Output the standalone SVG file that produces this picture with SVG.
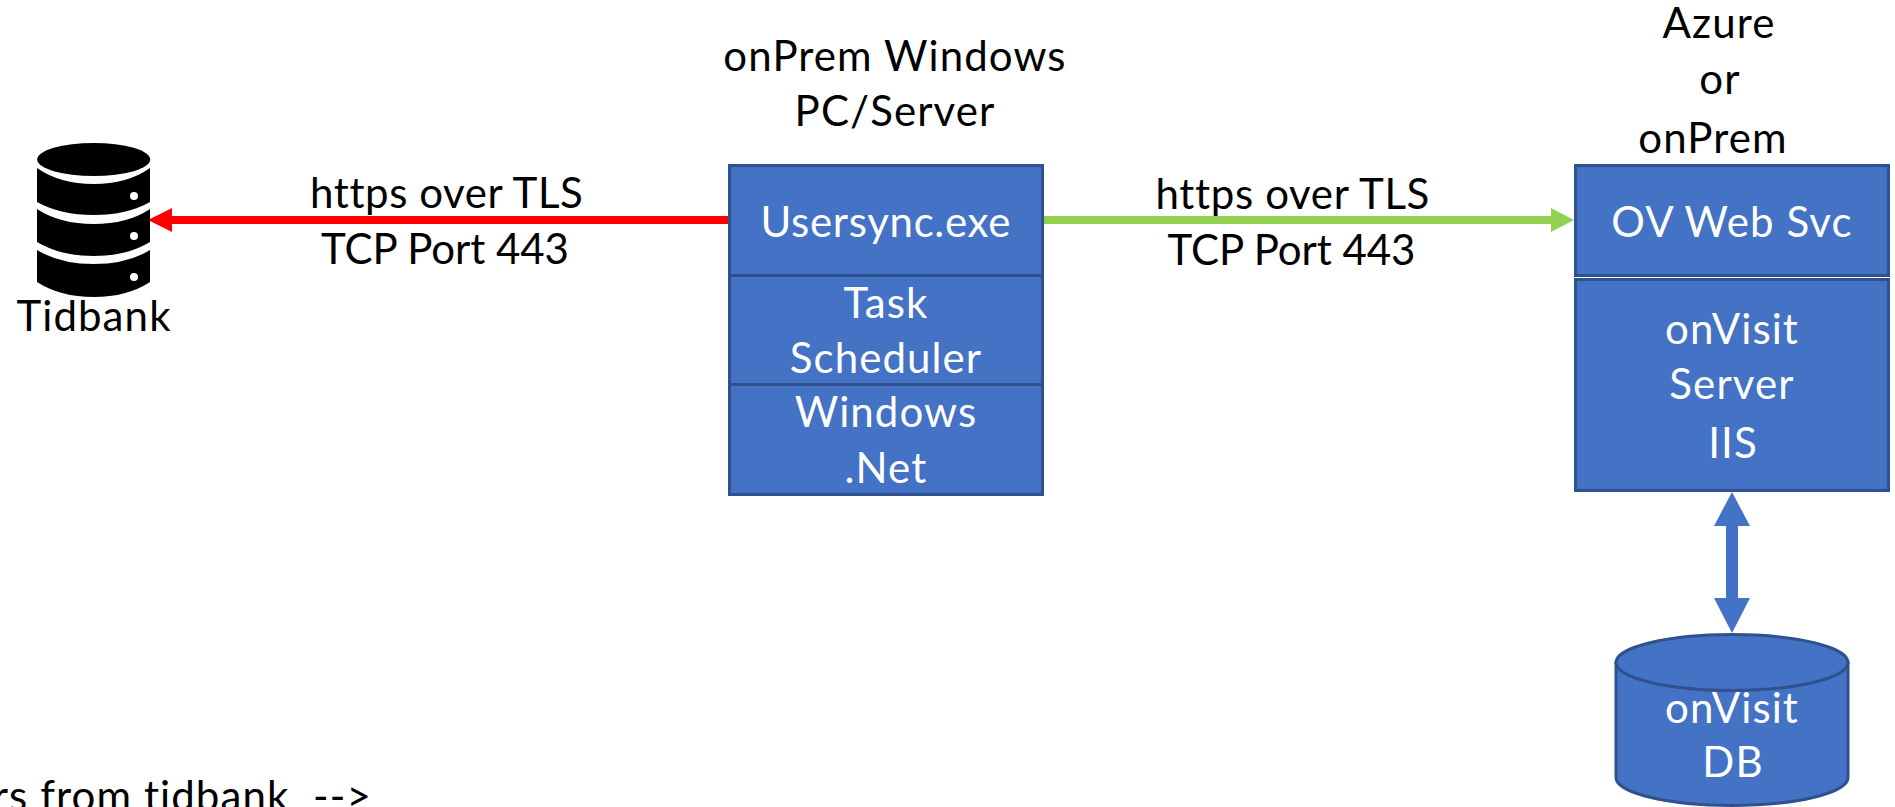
<svg xmlns="http://www.w3.org/2000/svg" width="1895" height="807" viewBox="0 0 1895 807">
<style>
text{font-family:"Lato","Carlito","Open Sans",sans-serif;font-size:42px;letter-spacing:1.1px;font-variant-ligatures:none;text-anchor:middle;fill:#000}
.w{fill:#fff}
.box{fill:#4472C4;stroke:#2F528F;stroke-width:3}
</style>
<rect width="1895" height="807" fill="#fff"/>
<g id="connectors">
<path d="M728 216H172V208L148 220L172 232V224H728Z" fill="#FF0000"/>
<path d="M1043 216H1551V208L1574 220L1551 232V224H1043Z" fill="#92D050"/>
<path d="M1732 492L1750 526H1738V598H1750L1732 633L1714 598H1726V526H1714Z" fill="#4472C4"/>
</g>
<g id="tidbank">
<ellipse cx="93.7" cy="159.500" rx="56.5" ry="16.5"/>
<path d="M37 168Q60 184 93.7 184T150 168V202Q127 215 93.7 215T37 202Z"/>
<path d="M37 209Q60 224 93.7 224T150 209V242Q127 256 93.7 256T37 242Z"/>
<path d="M37 250Q60 264 93.7 264T150 250V282Q127 297 93.7 297T37 282Z"/>
<circle cx="134" cy="196" r="4" fill="#fff"/>
<circle cx="134" cy="236" r="4" fill="#fff"/>
<circle cx="134" cy="277" r="4" fill="#fff"/>
<text x="94" y="331">Tidbank</text>
</g>
<g id="label-left"><text x="447" y="208" textLength="274">https over TLS</text><text x="445.5" y="264" textLength="249">TCP Port 443</text></g>
<g id="label-right"><text x="1293" y="209" textLength="275">https over TLS</text><text x="1292" y="265" textLength="249">TCP Port 443</text></g>
<g id="onprem-title"><text x="895" y="71">onPrem Windows</text><text x="895" y="126">PC/Server</text></g>
<g id="azure-title"><text x="1719" y="38">Azure</text><text x="1720" y="94">or</text><text x="1713" y="153">onPrem</text></g>
<g id="usersync"><rect class="box" x="729.5" y="165.5" width="313" height="110"/><text class="w" x="886" y="237" textLength="251">Usersync.exe</text></g>
<g id="task-scheduler"><rect class="box" x="729.5" y="275.5" width="313" height="109"/><text class="w" x="886" y="318">Task</text><text class="w" x="886" y="373">Scheduler</text></g>
<g id="windows-net"><rect class="box" x="729.5" y="384.5" width="313" height="110"/><text class="w" x="886" y="427">Windows</text><text class="w" x="886" y="483">.Net</text></g>
<g id="ov-web-svc"><rect class="box" x="1575.5" y="165.5" width="313" height="110"/><text class="w" x="1732" y="237">OV Web Svc</text></g>
<g id="onvisit-server"><rect class="box" x="1575.5" y="279.5" width="313" height="211"/><text class="w" x="1732" y="344">onVisit</text><text class="w" x="1732" y="399">Server</text><text class="w" x="1733" y="458">IIS</text></g>
<g id="onvisit-db">
<path class="box" d="M1616 662.5V777.500A116 28 0 0 0 1848 777.500V662.500Z"/>
<ellipse class="box" cx="1732" cy="662.500" rx="116" ry="28"/>
<text class="w" x="1732" y="723">onVisit</text><text class="w" x="1733" y="777">DB</text>
</g>
<text x="372" y="811" style="text-anchor:end" xml:space="preserve">rs from tidbank  --&gt;</text>
</svg>
